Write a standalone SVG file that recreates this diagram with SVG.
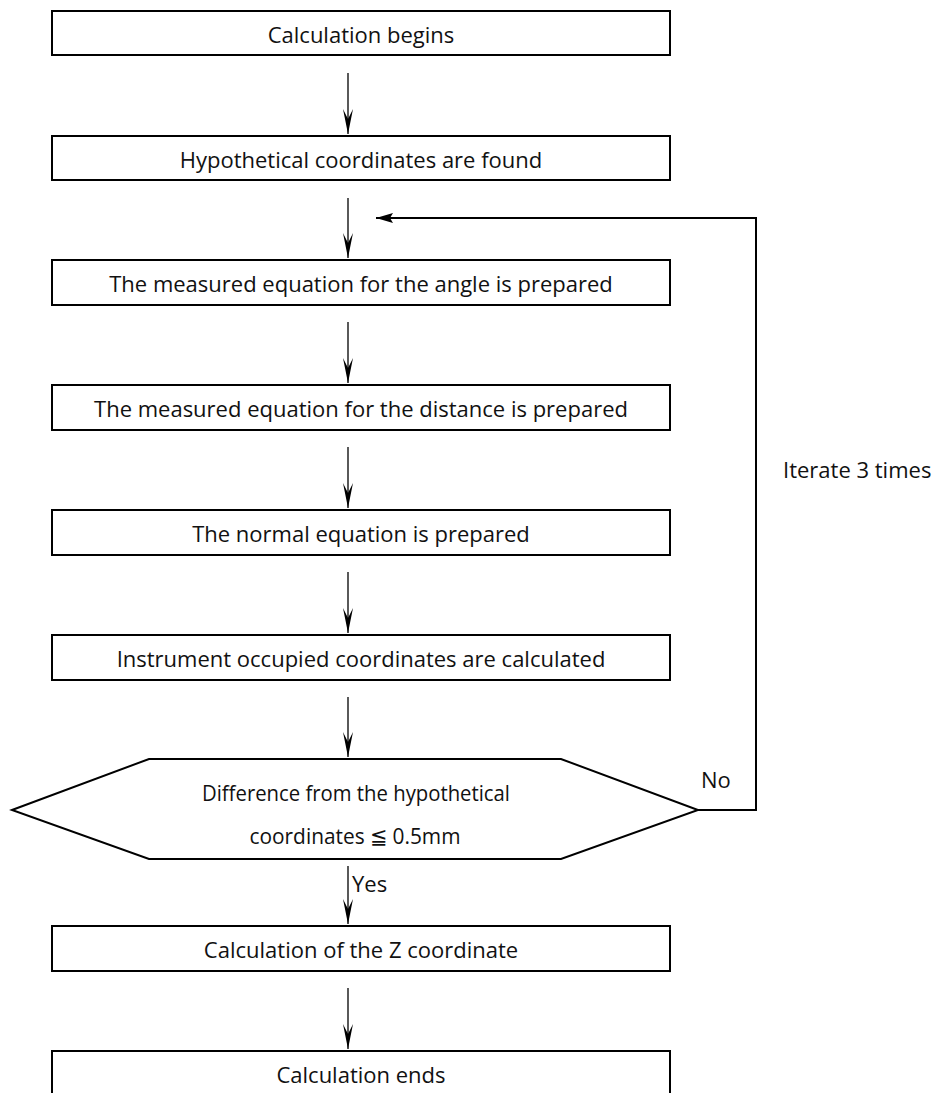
<svg xmlns="http://www.w3.org/2000/svg" width="939" height="1093" viewBox="0 0 939 1093">
<style>
.box{fill:#fff;stroke:#000;stroke-width:2}
.t{font-family:"Open Sans","Noto Sans",sans-serif;font-size:22px;fill:#111;text-anchor:middle}
.l{font-family:"Open Sans","Noto Sans",sans-serif;font-size:22px;fill:#111}
.ar{stroke:#000;stroke-width:1.3;fill:none;marker-end:url(#ah)}
.fb{stroke:#000;stroke-width:2;fill:none}
</style>
<defs>
<marker id="ah" markerUnits="userSpaceOnUse" markerWidth="28" markerHeight="12" viewBox="-26 -6 28 12" refX="0" refY="0" orient="auto">
<path d="M0,0 L-25,-5 L-15,0 L-25,5 Z" fill="#000"/>
</marker>
<marker id="ah2" markerUnits="userSpaceOnUse" markerWidth="20" markerHeight="12" viewBox="-18 -6 20 12" refX="0" refY="0" orient="auto">
<path d="M0,0 L-17,-5 L-14,0 L-17,5 Z" fill="#000"/>
</marker>
</defs>
<g id="connectors">
<line class="ar" x1="348" y1="73" x2="348" y2="134"/>
<line class="ar" x1="348" y1="198" x2="348" y2="258"/>
<line class="ar" x1="348" y1="322" x2="348" y2="383"/>
<line class="ar" x1="348" y1="447" x2="348" y2="508"/>
<line class="ar" x1="348" y1="572" x2="348" y2="633"/>
<line class="ar" x1="348" y1="697" x2="348" y2="757"/>
<line class="ar" x1="348" y1="866" x2="348" y2="924"/>
<line class="ar" x1="348" y1="988" x2="348" y2="1049"/>
<polyline class="fb" points="698,810 756,810 756,218 376,218" marker-end="url(#ah2)"/>
<text class="l" x="701" y="788">No</text>
<text class="l" x="352" y="892">Yes</text>
<text class="l" x="783" y="478">Iterate 3 times</text>
</g>
<g id="n1"><rect class="box" x="52" y="11" width="618" height="44"/><text class="t" x="361" y="43">Calculation begins</text></g>
<g id="n2"><rect class="box" x="52" y="136" width="618" height="44"/><text class="t" x="361" y="168">Hypothetical coordinates are found</text></g>
<g id="n3"><rect class="box" x="52" y="260" width="618" height="45"/><text class="t" x="361" y="292">The measured equation for the angle is prepared</text></g>
<g id="n4"><rect class="box" x="52" y="385" width="618" height="45"/><text class="t" x="361" y="417">The measured equation for the distance is prepared</text></g>
<g id="n5"><rect class="box" x="52" y="510" width="618" height="45"/><text class="t" x="361" y="542">The normal equation is prepared</text></g>
<g id="n6"><rect class="box" x="52" y="635" width="618" height="45"/><text class="t" x="361" y="667">Instrument occupied coordinates are calculated</text></g>
<g id="n7"><polygon class="box" points="12,810 149,759 561,759 698,810 561,859 149,859"/>
<text class="t" x="356" y="801" textLength="308" lengthAdjust="spacingAndGlyphs">Difference from the hypothetical</text>
<text class="t" x="355" y="844" textLength="211" lengthAdjust="spacingAndGlyphs">coordinates ≦ 0.5mm</text></g>
<g id="n8"><rect class="box" x="52" y="926" width="618" height="45"/><text class="t" x="361" y="958">Calculation of the Z coordinate</text></g>
<g id="n9"><rect class="box" x="52" y="1051" width="618" height="45"/><text class="t" x="361" y="1083">Calculation ends</text></g>
</svg>
